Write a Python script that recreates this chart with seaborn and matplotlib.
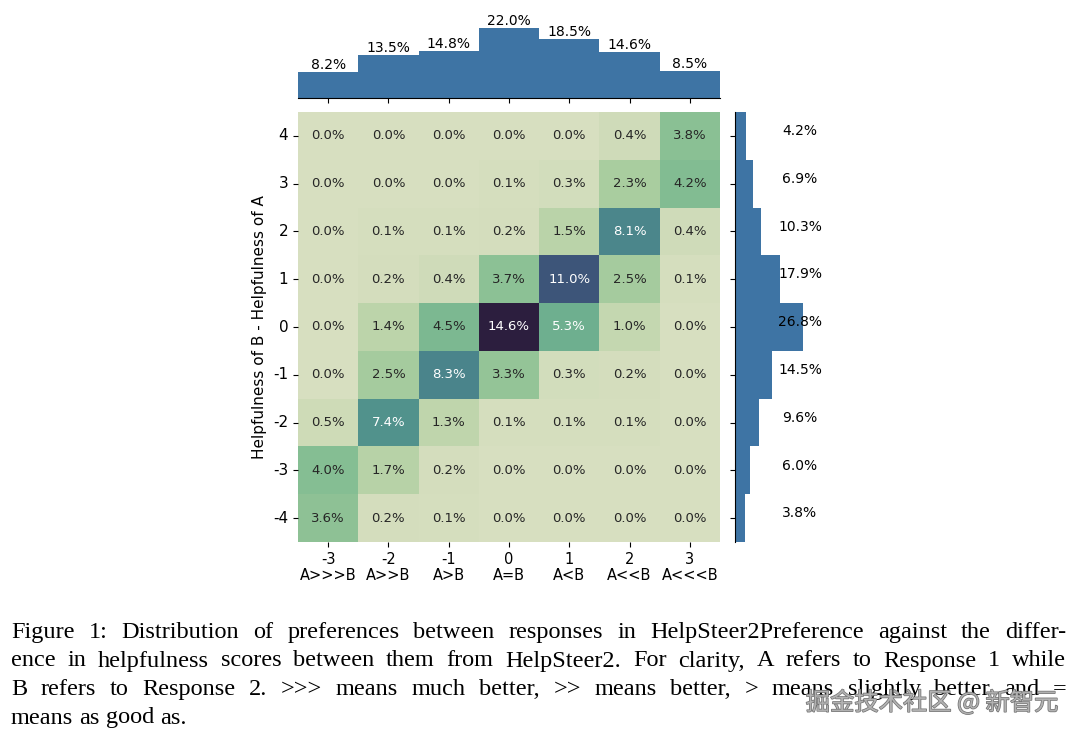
import numpy as np
import pandas as pd
import matplotlib
matplotlib.use('Agg')
from matplotlib import pyplot as plt
import matplotlib.patheffects as pe
import seaborn as sns

# Helpfulness difference on each axis
x_vals = [-3, -2, -1, 0, 1, 2, 3]
x_names = ['A>>>B', 'A>>B', 'A>B', 'A=B', 'A<B', 'A<<B', 'A<<<B']
y_vals = [4, 3, 2, 1, 0, -1, -2, -3, -4]

# Joint distribution in percent (rows: y from 4 down to -4)
pct = [
    [0.0, 0.0, 0.0, 0.0, 0.0, 0.4, 3.8],
    [0.0, 0.0, 0.0, 0.1, 0.3, 2.3, 4.2],
    [0.0, 0.1, 0.1, 0.2, 1.5, 8.1, 0.4],
    [0.0, 0.2, 0.4, 3.7, 11.0, 2.5, 0.1],
    [0.0, 1.4, 4.5, 14.6, 5.3, 1.0, 0.0],
    [0.0, 2.5, 8.3, 3.3, 0.3, 0.2, 0.0],
    [0.5, 7.4, 1.3, 0.1, 0.1, 0.1, 0.0],
    [4.0, 1.7, 0.2, 0.0, 0.0, 0.0, 0.0],
    [3.6, 0.2, 0.1, 0.0, 0.0, 0.0, 0.0],
]

# Marginals in percent
col_marg = [8.2, 13.5, 14.8, 22.0, 18.5, 14.6, 8.5]
row_marg = [4.2, 6.9, 10.3, 17.9, 26.8, 14.5, 9.6, 6.0, 3.8]

caption = [
    'Figure 1: Distribution of preferences between responses in HelpSteer2Preference against the differ-',
    'ence in helpfulness scores between them from HelpSteer2. For clarity, A refers to Response 1 while',
    'B refers to Response 2. >>> means much better, >> means better, > means slightly better and =',
    'means as good as.',
]

bar_color = '#3e74a4'
W, H = 1080, 738

df = pd.DataFrame(np.array(pct) / 100, index=y_vals, columns=x_vals)
xtick_labels = [f'{v}\n{n}' for v, n in zip(x_vals, x_names)]

fig = plt.figure(figsize=(W / 100, H / 100), dpi=100)

ax_main = fig.add_axes([298 / W, 1 - 542 / H, 422 / W, 430 / H])
ax_top = fig.add_axes([298 / W, 1 - 98 / H, 422 / W, 70 / H])
ax_right = fig.add_axes([735 / W, 1 - 542 / H, 68 / W, 430 / H])

cmap = sns.cubehelix_palette(start=.5, rot=-.75, as_cmap=True)
sns.heatmap(df, ax=ax_main, cmap=cmap, annot=True, fmt='.1%', cbar=False,
            xticklabels=xtick_labels, yticklabels=y_vals,
            annot_kws={'fontsize': 9.5})
ax_main.set_yticklabels(y_vals, rotation=0, fontsize=11)
ax_main.set_xticklabels(xtick_labels, rotation=0, fontsize=10.5, linespacing=1.1)
ax_main.set_ylabel('Helpfulness of B - Helpfulness of A', fontsize=11)
ax_main.set_xlabel('')

# Top marginal
sns.barplot(x=[str(v) for v in x_vals], y=col_marg, ax=ax_top, color=bar_color,
            width=1, saturation=1, linewidth=0)
ax_top.set_xlim(-0.5, len(x_vals) - 0.5)
ax_top.set_ylim(0, max(col_marg))
for i, v in enumerate(col_marg):
    ax_top.text(i, v, f'{v:.1f}%', ha='center', va='bottom', fontsize=10,
                clip_on=False)
for s in ['top', 'right', 'left']:
    ax_top.spines[s].set_visible(False)
ax_top.set_yticks([])
ax_top.set_xticklabels([])
ax_top.set_xlabel('')
ax_top.patch.set_alpha(0)

# Right marginal
sns.barplot(y=[str(v) for v in y_vals], x=row_marg, ax=ax_right, orient='h',
            color=bar_color, width=1, saturation=1, linewidth=0)
ax_right.set_ylim(len(y_vals) - 0.5, -0.5)
ax_right.set_xlim(0, max(row_marg))
for i, v in enumerate(row_marg):
    ax_right.text(max(row_marg) * 0.955, i - 0.1, f'{v:.1f}%', ha='center',
                  va='center', fontsize=10, clip_on=False)
for s in ['top', 'right', 'bottom']:
    ax_right.spines[s].set_visible(False)
ax_right.set_xticks([])
ax_right.set_yticklabels([])
ax_right.set_ylabel('')
ax_right.patch.set_alpha(0)

# Caption, justified word by word
renderer = fig.canvas.get_renderer()
left_px, right_px = 11, 1066
baselines = [638, 666.5, 695, 723.5]
cap_font = dict(family='Liberation Serif', fontsize=17.5, color='black')

probe_a = fig.text(0, 0, 'a a', **cap_font)
probe_b = fig.text(0, 0, 'aa', **cap_font)
space_w = (probe_a.get_window_extent(renderer).width
           - probe_b.get_window_extent(renderer).width)
probe_a.remove()
probe_b.remove()

for k, (line, yy) in enumerate(zip(caption, baselines)):
    words = line.split(' ')
    texts = [fig.text(0, 1 - yy / H, w, va='baseline', ha='left', **cap_font)
             for w in words]
    widths = [t.get_window_extent(renderer).width for t in texts]
    if k < len(caption) - 1:
        gap = (right_px - left_px - sum(widths)) / (len(words) - 1)
    else:
        gap = space_w
    x = left_px
    for t, w in zip(texts, widths):
        t.set_x(x / W)
        x += w + gap

# Watermark
fig.text(1058 / W, 1 - 703 / H, '掘金技术社区 @ 新智元', ha='right', va='center',
         fontsize=17.5, color='#b4b4b4', alpha=0.95,
         family=['Noto Sans CJK SC', 'DejaVu Sans'],
         path_effects=[pe.withStroke(linewidth=1.0, foreground='#6a6a6a')])

fig.savefig('out.png', dpi=100)
